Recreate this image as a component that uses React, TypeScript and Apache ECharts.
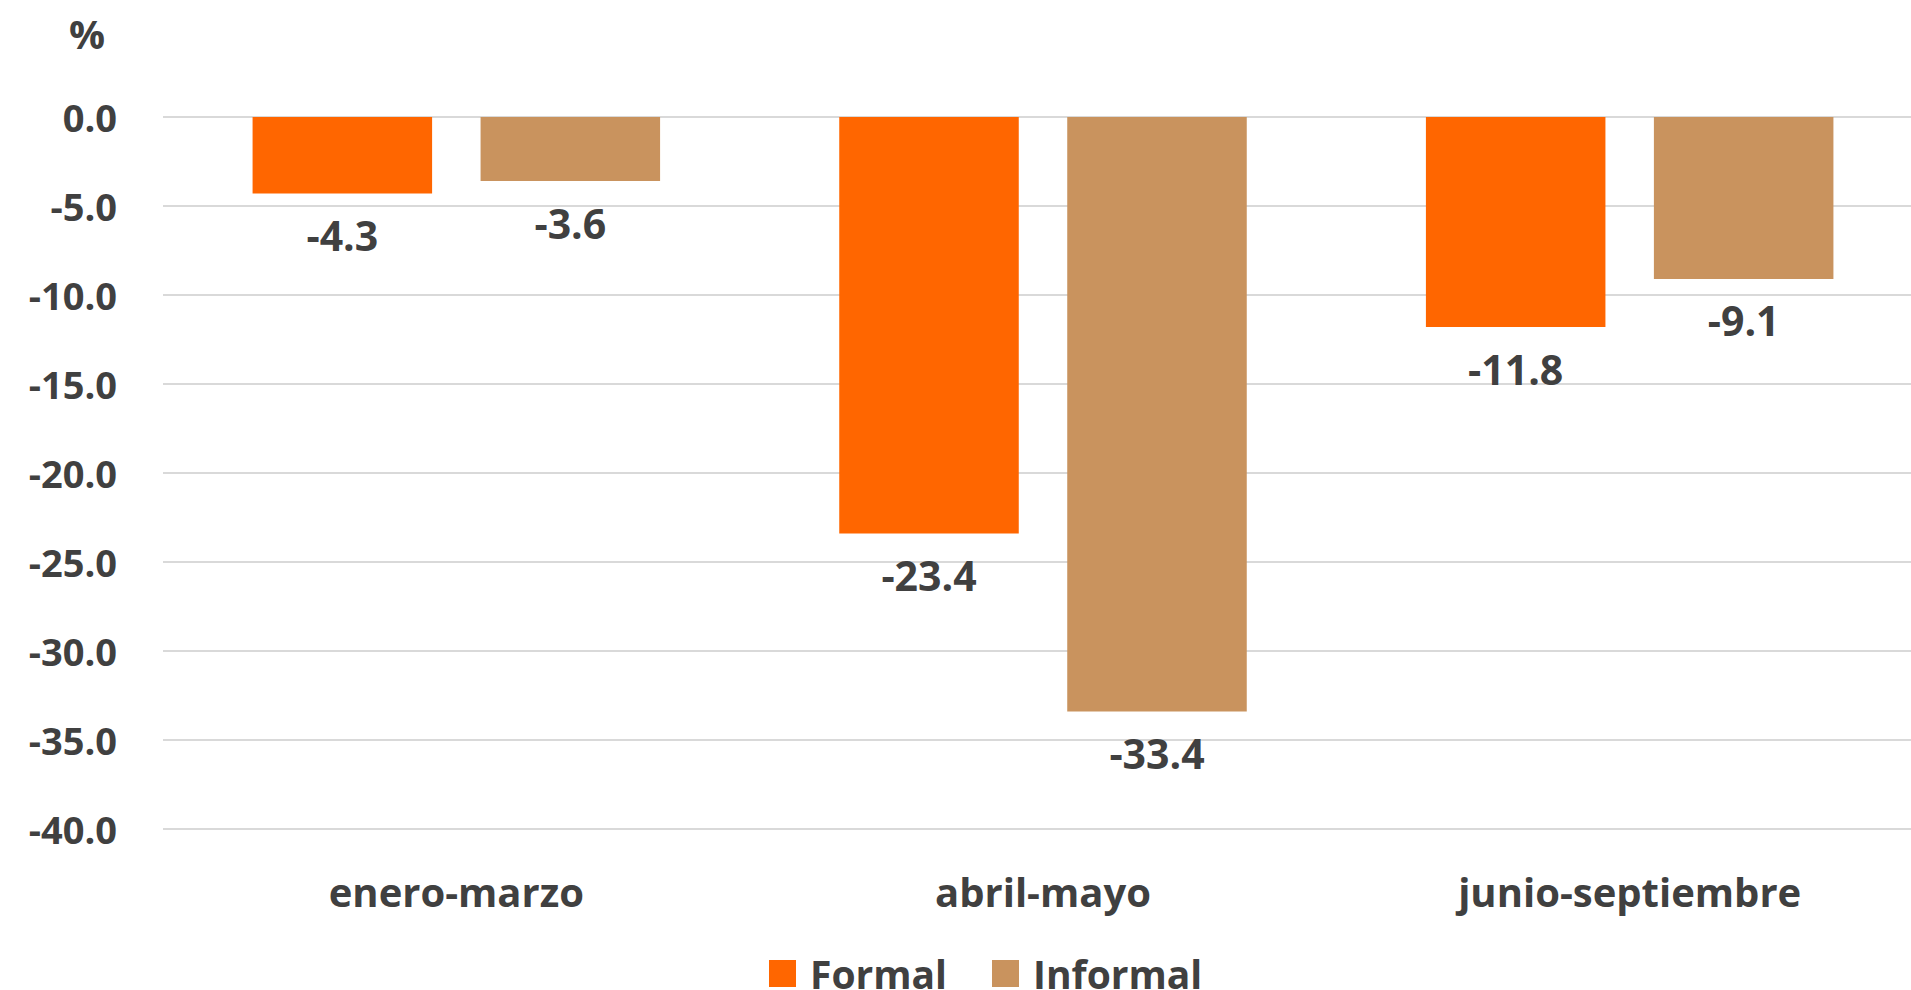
import React, { useEffect, useRef } from "react";
import * as echarts from "echarts";

const categories = ["enero-marzo", "abril-mayo", "junio-septiembre"];
const formal = [-4.3, -23.4, -11.8];
const informal = [-3.6, -33.4, -9.1];
const seriesNames = ["Formal", "Informal"];
const unitLabel = "%";

const TEXT = "#404040";
const FONT = "'Open Sans', 'Noto Sans', sans-serif";

export default function App() {
  const ref = useRef<HTMLDivElement>(null);
  useEffect(() => {
    document.body.style.margin = "0";
    const chart = echarts.init(ref.current!, null, { renderer: "svg" });
    const labelCfg = {
      show: true,
      position: "bottom",
      distance: 21,
      fontSize: 41,
      fontWeight: "bold",
      fontFamily: FONT,
      color: TEXT,
      formatter: (p: any) => Number(p.value).toFixed(1),
    };
    chart.setOption({
      animation: false,
      backgroundColor: "#ffffff",
      grid: { left: 163, top: 117, right: 0, bottom: 161, containLabel: false },
      xAxis: {
        type: "category",
        data: categories,
        position: "bottom",
        axisLine: { show: false, onZero: false },
        axisTick: { show: false },
        axisLabel: {
          margin: 42,
          fontSize: 40,
          fontWeight: "bold",
          fontFamily: FONT,
          color: TEXT,
        },
      },
      yAxis: {
        type: "value",
        min: -40,
        max: 0,
        interval: 5,
        axisLine: { show: false },
        axisTick: { show: false },
        splitLine: { lineStyle: { color: "#d9d9d9", width: 2 } },
        axisLabel: {
          margin: 46,
          fontSize: 38,
          fontWeight: "bold",
          fontFamily: FONT,
          color: TEXT,
          formatter: (v: number) => v.toFixed(1),
        },
      },
      legend: {
        data: seriesNames,
        left: 764,
        top: 949,
        itemWidth: 27,
        itemHeight: 27,
        itemGap: 45,
        icon: "rect",
        textStyle: {
          fontSize: 39,
          fontWeight: "bold",
          fontFamily: FONT,
          color: TEXT,
          padding: [0, 0, 0, 9],
        },
      },
      graphic: [
        {
          type: "text",
          x: 87,
          y: 33,
          style: {
            text: unitLabel,
            fontSize: 40,
            fontWeight: "bold",
            fontFamily: FONT,
            fill: TEXT,
            align: "center",
            verticalAlign: "middle",
          },
        },
      ],
      series: [
        {
          name: seriesNames[0],
          type: "bar",
          data: formal,
          barWidth: "30.6%",
          barGap: "27%",
          itemStyle: { color: "#FF6600" },
          label: labelCfg,
        },
        {
          name: seriesNames[1],
          type: "bar",
          data: informal,
          barWidth: "30.6%",
          barGap: "27%",
          itemStyle: { color: "#C9935E" },
          label: labelCfg,
        },
      ],
    });
    return () => chart.dispose();
  }, []);
  return (
    <div style={{ width: 1911, height: 990, overflow: "hidden" }}>
      <div ref={ref} style={{ width: 1923, height: 990 }} />
    </div>
  );
}
